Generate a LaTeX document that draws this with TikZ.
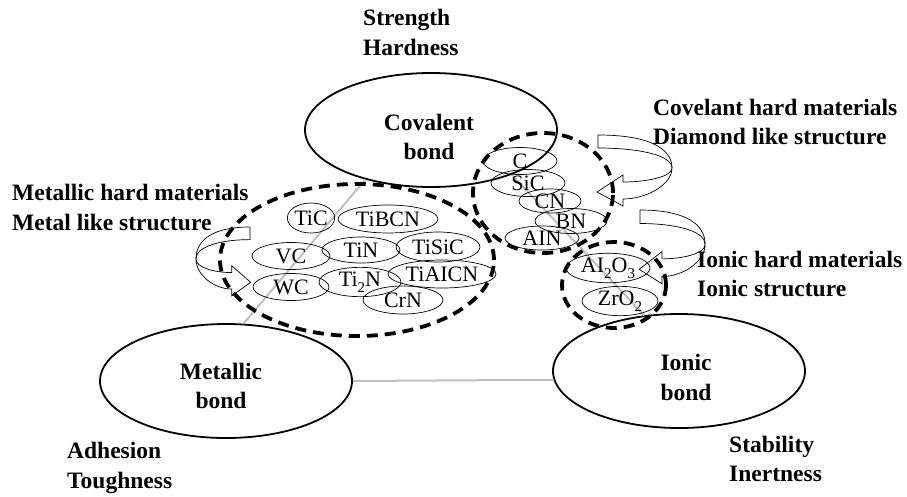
\documentclass[tikz,border=0pt]{standalone}
\usepackage{fontspec}
\setmainfont{Liberation Serif}
\usetikzlibrary{shapes.geometric}
\newcommand\lowsub[1]{\raisebox{-0.28em}{\fontsize{15}{15}\selectfont #1}}
\begin{document}
\begin{tikzpicture}[x=1pt,y=-1pt,
  bigell/.style={ellipse,draw,line width=1.8pt,minimum width=252pt,minimum height=114pt,inner sep=0pt},
  smell/.style={ellipse,draw,line width=0.7pt,inner sep=0pt,font=\fontsize{22}{24}\selectfont},
  grp/.style={ellipse,draw,line width=3.8pt,dash pattern=on 11pt off 7pt,inner sep=0pt},
  lbl/.style={font=\bfseries\fontsize{23.5}{29.5}\selectfont,align=left,anchor=west,inner sep=0pt},
  blbl/.style={font=\bfseries\fontsize{23.5}{29.5}\selectfont,align=center,inner sep=0pt},
  link/.style={draw=black!25,line width=2pt},
  curv/.style={line width=0.7pt,line join=miter}
]
\useasboundingbox (0,0) rectangle (907,496);

% main bond ellipses
\node[bigell] (cov) at (431,130) {};
\node[bigell] (met) at (226,381) {};
\node[bigell] (ion) at (679,371) {};

% grey triangle links
\draw[link] (met.73) -- (cov.217);
\draw[link] (met.east) -- (ion.184);
\draw[link] (cov.331) -- (ion.122);

% curved block arrows
\tikzset{pics/curvarrow/.style={code={
  \draw[curv] (0,0) .. controls (48,0) and (74,12) .. (74,33)
     .. controls (74,50) and (48,64) .. (25,64)
     -- (25,71) -- (-1,57) -- (25,40) -- (25,47)
     .. controls (48,47) and (74,42) .. (74,33);
  \draw[curv] (0,0) -- (0,13) .. controls (40,13) and (74,20) .. (74,33);
}}}
\pic[xscale=-0.73,yscale=0.97] (arrm) at (250,227) {curvarrow};
\pic (arrc) at (598,135) {curvarrow};
\pic[xscale=0.88,yscale=1.04] (arri) at (640,210) {curvarrow};

% metallic hard materials
\node[smell,minimum width=44pt,minimum height=30pt] (tic) at (311,218) {TiC};
\node[smell,minimum width=100pt,minimum height=28pt] (tibcn) at (388,219) {TiBCN};
\node[smell,minimum width=78pt,minimum height=27pt] (vc) at (291,256) {VC};
\node[smell,minimum width=78pt,minimum height=26pt] (tin) at (361,250) {TiN};
\node[smell,minimum width=84pt,minimum height=30pt] (tisic) at (438,247) {TiSiC};
\node[smell,minimum width=76pt,minimum height=27pt] (wc) at (291,287) {WC};
\node[smell,minimum width=82pt,minimum height=27pt] (ti2n) at (360,282) {Ti\lowsub{2}N};
\node[smell,minimum width=108pt,minimum height=28pt] (tialcn) at (442,274) {TiAICN};
\node[smell,minimum width=80pt,minimum height=28pt] (crn) at (403,300) {CrN};

% covalent hard materials
\node[smell,minimum width=74pt,minimum height=27pt] (c) at (520,161) {C};
\node[smell,minimum width=74pt,minimum height=27pt] (sic) at (528,183) {SiC};
\node[smell,minimum width=62pt,minimum height=24pt] (cn) at (550,201) {CN};
\node[smell,minimum width=72pt,minimum height=25pt] (bn) at (571,221) {BN};
\node[smell,minimum width=74pt,minimum height=24pt] (aln) at (542,238) {AIN};

% ionic hard materials
\node[smell,minimum width=84pt,minimum height=26pt] (alo) at (608,268) {AI\lowsub{2}O\lowsub{3}};
\node[smell,minimum width=76pt,minimum height=28pt] (zro) at (620,301) {ZrO\lowsub{2}};

% dashed group ellipses
\node[grp,minimum width=274pt,minimum height=152pt] (gmet) at (357,260) {};
\node[grp,minimum width=140pt,minimum height=120pt] (gcov) at (543,193) {};
\node[grp,minimum width=104pt,minimum height=86pt] (gion) at (614,285) {};

% bond labels
\node[blbl] (covt) at (429,137) {Covalent\\bond};
\node[blbl] (mett) at (221,386) {Metallic\\bond};
\node[blbl] (iont) at (686,377.5) {Ionic\\bond};

% property labels
\node[lbl] (sh) at (363,32.5) {Strength\\Hardness};
\node[lbl] (cd) at (653,122) {Covelant hard materials\\Diamond like structure};
\node[lbl] (mm) at (12,207.5) {Metallic hard materials\\Metal like structure};
\node[lbl] (ii) at (697,274) {Ionic hard materials\\Ionic structure};
\node[lbl] (at) at (67,468) {Adhesion\\Toughness};
\node[lbl] (si) at (729,459) {Stability\\Inertness};
\end{tikzpicture}
\end{document}
